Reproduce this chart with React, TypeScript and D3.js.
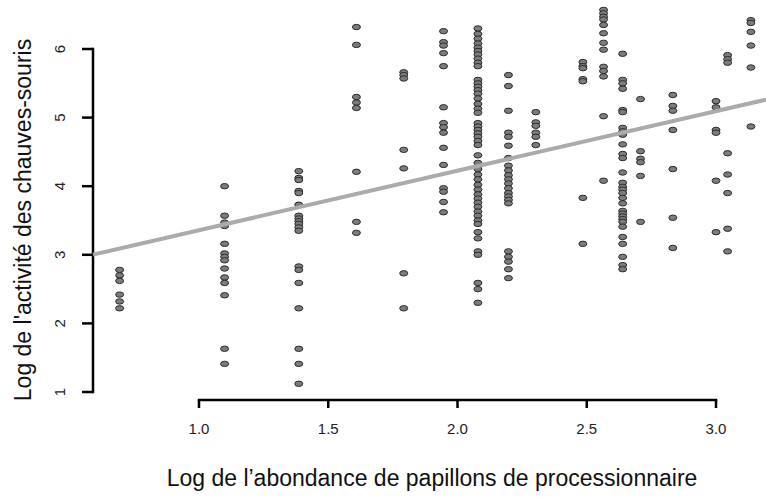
// @ts-nocheck
import React from 'react';
import * as d3 from 'd3';

// x = log abundance (columns), y = log activity values in each column
const columnX = [0.693, 1.099, 1.386, 1.609, 1.792, 1.946, 2.079, 2.197, 2.303, 2.485, 2.565, 2.639, 2.708, 2.833, 3.0, 3.045, 3.135];

const columnY = [
    [2.78, 2.7, 2.62, 2.42, 2.32, 2.22],
    [4.0, 3.57, 3.47, 3.42, 3.16, 3.02, 2.97, 2.92, 2.8, 2.67, 2.59, 2.41, 1.63, 1.41],
    [4.22, 4.12, 4.09, 3.93, 3.9, 3.73, 3.57, 3.53, 3.49, 3.45, 3.4, 3.35, 2.83, 2.78, 2.59, 2.22, 1.63, 1.41, 1.12],
    [6.32, 6.06, 5.3, 5.22, 5.14, 4.21, 3.48, 3.32],
    [5.66, 5.62, 5.57, 4.53, 4.26, 2.73, 2.22],
    [6.26, 6.1, 6.05, 5.94, 5.75, 5.15, 4.92, 4.86, 4.78, 4.56, 4.31, 3.97, 3.92, 3.77, 3.62],
    [6.3, 6.22, 6.15, 6.08, 6.02, 5.97, 5.92, 5.86, 5.8, 5.75, 5.55, 5.5, 5.45, 5.4, 5.35, 5.28, 5.2, 5.13, 5.07,
        4.92, 4.87, 4.82, 4.77, 4.72, 4.66, 4.6, 4.45, 4.34, 4.25, 4.17, 4.1, 4.02, 3.95, 3.88, 3.82, 3.76, 3.7,
        3.63, 3.57, 3.5, 3.45, 3.33, 3.24, 3.05, 3.0, 2.59, 2.5, 2.3],
    [5.62, 5.46, 5.1, 4.78, 4.72, 4.59, 4.41, 4.3, 4.23, 4.16, 4.1, 4.04, 3.97, 3.9, 3.85, 3.8, 3.75, 3.05, 2.97, 2.9, 2.79, 2.66],
    [5.08, 4.93, 4.88, 4.78, 4.72, 4.6],
    [5.81, 5.75, 5.72, 5.56, 5.53, 3.83, 3.16],
    [6.57, 6.52, 6.47, 6.43, 6.35, 6.23, 6.09, 5.99, 5.74, 5.68, 5.6, 5.02, 4.08],
    [5.93, 5.55, 5.5, 5.42, 5.11, 5.08, 4.85, 4.8, 4.75, 4.61, 4.47, 4.41, 4.2, 4.05, 3.99, 3.95, 3.9, 3.83, 3.75,
        3.64, 3.6, 3.56, 3.52, 3.48, 3.41, 3.26, 3.16, 2.97, 2.85, 2.79],
    [5.27, 4.51, 4.4, 4.35, 4.15, 3.48],
    [5.33, 5.17, 5.1, 4.82, 4.25, 3.54, 3.1],
    [5.24, 5.15, 4.82, 4.78, 4.08, 3.33],
    [5.91, 5.85, 5.8, 4.48, 4.17, 3.9, 3.38, 3.05],
    [6.42, 6.38, 6.25, 6.05, 5.73, 4.87],
];

const xTicks = [1.0, 1.5, 2.0, 2.5, 3.0];
const yTicks = [1, 2, 3, 4, 5, 6];

// fitted line y = a + b x
const fitIntercept = 2.49;
const fitSlope = 0.868;

const xTitle = 'Log de l\u2019abondance de papillons de processionnaire';
const yTitle = 'Log de l\'activit\u00e9 des chauves-souris';

export default function App() {
    const w = 766;
    const h = 497;
    const font = '"Liberation Sans", Arial, sans-serif';

    const x = d3.scaleLinear().domain([1, 3]).range([199, 716]);
    const y = d3.scaleLinear().domain([1, 6]).range([392, 49]);

    const points = columnX.flatMap((cx, i) => columnY[i].map((v) => ({ x: cx, y: v })));

    const axisX = 93;
    const axisY = 400;

    const fitX0 = x.invert(axisX);
    const fitX1 = x.invert(w);

    return (
        <div style={{ position: 'absolute', left: 0, top: 0 }}>
            <svg width={w} height={h} style={{ display: 'block', background: 'white' }}>
                {/* y axis */}
                <g stroke="black" strokeWidth={2.5} fill="none">
                    <line x1={axisX} x2={axisX} y1={y(1)} y2={y(6)} strokeLinecap="square" />
                    {yTicks.map((t) => (
                        <line key={t} x1={axisX - 11} x2={axisX} y1={y(t)} y2={y(t)} />
                    ))}
                </g>
                {yTicks.map((t) => (
                    <text key={t} transform={`translate(${axisX - 28}, ${y(t)}) rotate(-90)`}
                        textAnchor="middle" fontFamily={font} fontSize={15} fill="#222">{t}</text>
                ))}

                {/* x axis */}
                <g stroke="black" strokeWidth={2.5} fill="none">
                    <line x1={x(1)} x2={x(3)} y1={axisY} y2={axisY} strokeLinecap="square" />
                    {xTicks.map((t) => (
                        <line key={t} x1={x(t)} x2={x(t)} y1={axisY} y2={axisY + 8} />
                    ))}
                </g>
                {xTicks.map((t) => (
                    <text key={t} x={x(t)} y={434} textAnchor="middle" fontFamily={font}
                        fontSize={15} fill="#222">{d3.format('.1f')(t)}</text>
                ))}

                {/* points */}
                <g fill="#7c7c7c" stroke="#2b2b2b" strokeWidth={1}>
                    {points.map((d, i) => (
                        <ellipse key={i} cx={x(d.x)} cy={y(d.y)} rx={4} ry={2.7} />
                    ))}
                </g>

                {/* regression line */}
                <line x1={x(fitX0)} y1={y(fitIntercept + fitSlope * fitX0)}
                    x2={x(fitX1)} y2={y(fitIntercept + fitSlope * fitX1)}
                    stroke="#ababab" strokeWidth={4} />

                <text x={432} y={486} textAnchor="middle" fontFamily={font} fontSize={23} fill="#111">{xTitle}</text>
                <text transform="translate(31, 220) rotate(-90)" textAnchor="middle" fontFamily={font}
                    fontSize={23} fill="#111">{yTitle}</text>
            </svg>
        </div>
    );
}
